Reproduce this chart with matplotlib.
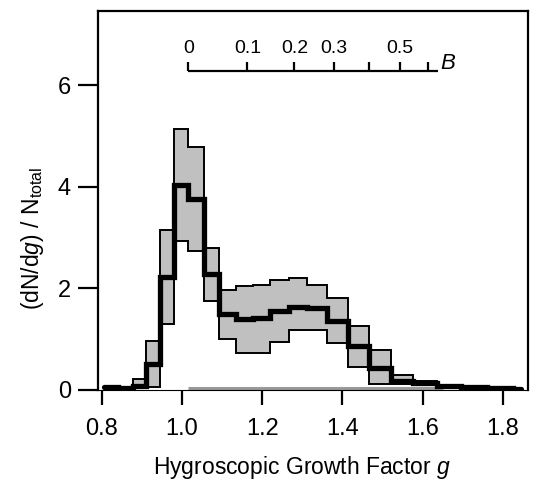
import matplotlib
matplotlib.use("Agg")
import matplotlib.pyplot as plt
import numpy as np

plt.rcParams['font.family'] = ['Liberation Sans', 'DejaVu Sans']
plt.rcParams['mathtext.fontset'] = 'custom'
plt.rcParams['mathtext.rm'] = 'Liberation Sans'
plt.rcParams['mathtext.it'] = 'Liberation Sans:italic'

# Bin edges of growth factor g
bin_edges = [0.806, 0.8400, 0.8776, 0.9103, 0.9443, 0.9795, 1.016, 1.0539,
             1.0932, 1.1340, 1.1763, 1.2202, 1.2657, 1.3129, 1.3618, 1.4127,
             1.4653, 1.5200, 1.5767, 1.6355, 1.6965, 1.7598, 1.8254, 1.845]
# Mean distribution (thick black line)
mean_vals = [0.06, 0.03, 0.08, 0.52, 2.23, 4.04, 3.75, 2.29, 1.50, 1.39, 1.42,
             1.55, 1.64, 1.62, 1.35, 0.86, 0.43, 0.18, 0.14, 0.085, 0.06, 0.03, 0.02]
# Variability band (grey fill)
upper_vals = [0.06, 0.03, 0.21, 0.96, 3.14, 5.13, 4.78, 2.80, 1.97, 2.05, 2.07,
              2.16, 2.20, 2.07, 1.81, 1.25, 0.79, 0.30, 0.17, 0.085, 0.06, 0.03, 0.02]
lower_vals = [0.06, 0.03, 0.04, 0.06, 1.30, 2.93, 2.74, 1.75, 1.00, 0.72, 0.72,
              0.94, 1.18, 1.18, 0.92, 0.46, 0.12, 0.12, 0.11, 0.085, 0.06, 0.03, 0.02]
band_start, band_end = 2, 19  # bins with a shaded band

x_ticks = [0.8, 1.0, 1.2, 1.4, 1.6, 1.8]
x_ticklabels = ['0.8', '1.0', '1.2', '1.4', '1.6', '1.8']
y_ticks = [0, 2, 4, 6]
y_ticklabels = ['0', '2', '4', '6']

# Secondary B scale (hygroscopicity parameter)
B_ticks = [0, 0.1, 0.2, 0.3, 0.4, 0.5, 0.6]
B_ticklabels = ['0', '0.1', '0.2', '0.3', '', '0.5', '']
B_end = 0.64
grey_range = [1.016, 1.65]


def B_to_g(b):
    return 1.016 * (1 + 5.0 * np.asarray(b)) ** (1 / 3)


fig = plt.figure(figsize=(5.42, 4.88), dpi=100)
ax = fig.add_axes([98 / 542, 1 - 390 / 488, (527.5 - 98) / 542, (390 - 11) / 488])

edges = np.array(bin_edges)
mean = np.array(mean_vals)
up = np.array(upper_vals)
lo = np.array(lower_vals)

# shaded band
e_b = edges[band_start:band_end + 1]
u_b = up[band_start:band_end]
l_b = lo[band_start:band_end]
xs_u = np.repeat(e_b, 2)[1:-1]
ys_u = np.repeat(u_b, 2)
xs_l = np.repeat(e_b, 2)[1:-1]
ys_l = np.repeat(l_b, 2)
poly_x = np.concatenate([xs_u, xs_l[::-1]])
poly_y = np.concatenate([ys_u, ys_l[::-1]])
ax.fill(poly_x, poly_y, facecolor='#c0c0c0', edgecolor='black', linewidth=1.4,
        joinstyle='miter', zorder=2)

# grey line along zero
ax.plot(grey_range, [0.03, 0.03], color='#999999', linewidth=2.2, zorder=1.5,
        solid_capstyle='butt')

# mean thick line
xs_m = np.repeat(edges, 2)[1:-1]
ys_m = np.repeat(mean, 2)
ax.plot(xs_m, ys_m, color='black', linewidth=3.8, solid_capstyle='round',
        solid_joinstyle='miter', zorder=3)

# B scale
y_B = 6.28
ax.plot(B_to_g([0, B_end]), [y_B, y_B], color='black', linewidth=1.6,
        solid_capstyle='butt', zorder=4)
for b, lab in zip(B_ticks, B_ticklabels):
    gx = float(B_to_g(b))
    ax.plot([gx, gx], [y_B, y_B + 0.18], color='black', linewidth=1.6,
            solid_capstyle='butt', zorder=4)
    if lab:
        ax.text(gx, y_B + 0.36, lab, ha='center', va='baseline', fontsize=14)
ax.text(float(B_to_g(B_end)) + 0.004, y_B + 0.04, 'B', fontsize=16,
        style='italic', ha='left', va='baseline')

ax.set_xlim(0.7908, 1.8612)
ax.set_ylim(0, 7.46)
ax.set_xticks(x_ticks)
ax.set_xticklabels(x_ticklabels)
ax.set_yticks(y_ticks)
ax.set_yticklabels(y_ticklabels)
ax.tick_params(axis='x', direction='out', length=10.8, width=1.6, labelsize=17, pad=9.5)
ax.tick_params(axis='y', direction='out', length=14.4, width=1.6, labelsize=17, pad=5)

for s in ['left', 'top', 'right']:
    ax.spines[s].set_linewidth(1.6)
ax.spines['bottom'].set_linewidth(0.8)

ax.set_xlabel(r'Hygroscopic Growth Factor $g$', fontsize=16.5, va='top')
ax.xaxis.set_label_coords((302 - 98) / 429.5, -0.170)
ax.set_ylabel(r'(dN/d$g$) / N$_{\mathrm{total}}$', fontsize=16.5)
ax.yaxis.set_label_coords(-0.12, 0.40)

fig.savefig('out.png', dpi=100)
